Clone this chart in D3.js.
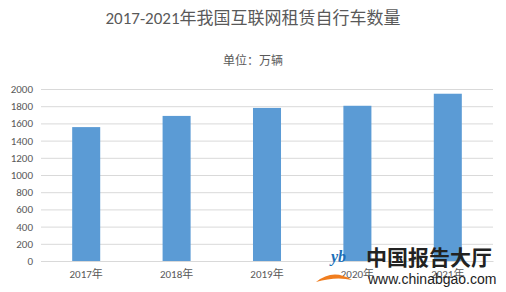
<!DOCTYPE html>
<html>
<head>
<meta charset="utf-8">
<script src="https://cdn.jsdelivr.net/npm/d3@7"></script>
<style>
  body { margin: 0; background: #fff; }
  svg { display: block; }
</style>
</head>
<body>
<div id="chart"></div>
<script>
// Bicycle counts by year, 万辆
const years = ['2017年', '2018年', '2019年', '2020年', '2021年'];
const values = [1557, 1687, 1780, 1805, 1945];
const yTicks = [0, 200, 400, 600, 800, 1000, 1200, 1400, 1600, 1800, 2000];

const width = 506;
const height = 292;
const margin = { top: 89, right: 13, bottom: 31, left: 41 };
const chartWidth = width - margin.left - margin.right;
const chartHeight = height - margin.top - margin.bottom;
const font = 'Calibri, Carlito, "Noto Sans CJK SC", "Noto Sans", sans-serif';

const svg = d3.select('#chart')
    .append('svg')
    .attr('width', width)
    .attr('height', height);

// Title and unit
svg.append('text')
    .attr('x', 253)
    .attr('y', 24)
    .attr('text-anchor', 'middle')
    .attr('fill', '#595959')
    .style('font-family', font)
    .style('font-size', '17px')
    .text('2017-2021年我国互联网租赁自行车数量');

svg.append('text')
    .attr('x', 253)
    .attr('y', 65)
    .attr('text-anchor', 'middle')
    .attr('fill', '#595959')
    .style('font-family', font)
    .style('font-size', '12px')
    .text('单位：万辆');

const g = svg.append('g')
    .attr('transform', `translate(${margin.left},${margin.top})`);

// Scales
const xScale = d3.scaleBand()
    .domain(years)
    .range([0, chartWidth])
    .paddingInner(0.69)
    .paddingOuter(0.345);

const yScale = d3.scaleLinear()
    .domain([0, 2000])
    .range([chartHeight, 0]);

// Grid lines
g.append('g')
    .call(d3.axisLeft(yScale)
        .tickValues(yTicks)
        .tickSize(-chartWidth)
        .tickFormat('')
    )
    .call(s => s.select('.domain').remove())
    .call(s => s.selectAll('line').attr('stroke', '#d9d9d9'));

// Y labels
g.append('g')
    .call(d3.axisLeft(yScale)
        .tickValues(yTicks)
        .tickFormat(d3.format('d'))
        .tickSize(0)
        .tickPadding(8))
    .call(s => s.select('.domain').remove())
    .call(s => s.selectAll('text')
        .attr('fill', '#595959')
        .style('font-family', font)
        .style('font-size', '11px'));

// Bars
g.selectAll('.bar')
    .data(values)
    .enter()
    .append('rect')
    .attr('class', 'bar')
    .attr('x', (d, i) => xScale(years[i]))
    .attr('y', d => yScale(d))
    .attr('width', xScale.bandwidth())
    .attr('height', d => chartHeight - yScale(d))
    .attr('fill', '#5b9bd5');

// X axis
g.append('g')
    .attr('transform', `translate(0,${chartHeight})`)
    .call(d3.axisBottom(xScale).tickSize(0).tickPadding(9))
    .call(s => s.select('.domain').attr('stroke', '#d9d9d9'))
    .call(s => s.selectAll('text')
        .attr('fill', '#595959')
        .style('font-family', font)
        .style('font-size', '11px'));

// Watermark
const wm = svg.append('g');
wm.append('path')
    .attr('d', 'M316,282 Q333,268 352,280 Q336,276 316,282 Z')
    .attr('fill', '#f07d1e');
wm.append('text')
    .attr('x', 331)
    .attr('y', 262)
    .attr('fill', '#1c6fb8')
    .style('font-family', 'Georgia, serif')
    .style('font-style', 'italic')
    .style('font-weight', 'bold')
    .style('font-size', '16px')
    .text('yb');
wm.append('text')
    .attr('x', 366)
    .attr('y', 265)
    .attr('fill', '#222')
    .style('font-family', '"Noto Sans CJK SC", sans-serif')
    .style('font-weight', 'bold')
    .style('font-size', '21px')
    .text('中国报告大厅');
wm.append('text')
    .attr('x', 368)
    .attr('y', 284)
    .attr('fill', '#222')
    .style('font-family', 'Arial, "Liberation Sans", sans-serif')
    .style('font-size', '14px')
    .text('www.chinabgao.com');
</script>
</body>
</html>
